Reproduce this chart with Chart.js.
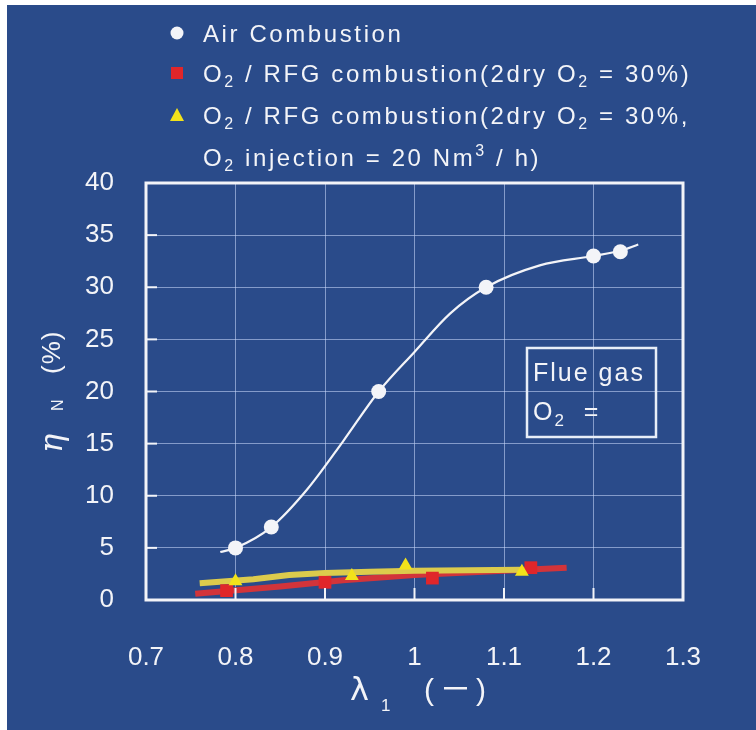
<!DOCTYPE html>
<html>
<head>
<meta charset="utf-8">
<script src="https://cdn.jsdelivr.net/npm/chart.js@4.4.1/dist/chart.umd.min.js"></script>
<style>
html,body{margin:0;padding:0;background:#ffffff;}
canvas{display:block;}
</style>
</head>
<body>
<canvas id="c" width="756" height="730" style="width:756px;height:730px"></canvas>
<script>
// ---- data ----
const xTickLabels = ['0.7','0.8','0.9','1','1.1','1.2','1.3'];
const yTickLabels = ['0','5','10','15','20','25','30','35','40'];

// Air combustion: measured points and hand-drawn fitted curve
const airX = [0.80, 0.84, 0.96, 1.08, 1.20, 1.23];
const airY = [5.0, 7.0, 20.0, 30.0, 33.0, 33.4];
const airCurveX = [0.783, 0.80, 0.84, 0.88, 0.92, 0.96, 1.00, 1.04, 1.08, 1.14, 1.20, 1.23, 1.25];
const airCurveY = [4.6, 5.0, 7.0, 10.6, 15.2, 20.0, 23.8, 27.5, 30.0, 32.1, 33.0, 33.5, 34.1];

// O2/RFG combustion (2dry O2 = 30%)
const rfgX = [0.79, 0.90, 1.02, 1.13];
const rfgY = [0.9, 1.7, 2.1, 3.1];
const rfgLineX = [0.755, 0.85, 0.92, 1.00, 1.10, 1.17];
const rfgLineY = [0.6, 1.3, 1.9, 2.4, 2.8, 3.1];

// O2/RFG combustion (2dry O2 = 30%, O2 injection = 20 Nm3/h)
const injX = [0.80, 0.93, 0.99, 1.12];
const injY = [1.8, 2.3, 3.3, 2.7];
const injLineX = [0.76, 0.82, 0.86, 0.90, 0.95, 1.00, 1.12];
const injLineY = [1.6, 2.0, 2.4, 2.6, 2.7, 2.8, 2.9];

const pts = (xs, ys) => xs.map((x, i) => ({x: x, y: ys[i]}));

const FONT = '"Liberation Sans", Arial, sans-serif';
const BG = '#2a4b8a';
const WHITE = '#f3f4f8';
const RED = '#e0262a';
const REDLINE = '#d2343a';
const YEL = '#f2e21a';
const YELLINE = '#dccb4c';

function rich(ctx, x, y, parts, base) {
  let cx = x;
  for (const p of parts) {
    const t = p[0], k = p[1] || 'n';
    const size = k === 'n' ? base : Math.round(base * 0.66);
    ctx.font = size + 'px ' + FONT;
    const dy = k === 'sub' ? base * 0.22 : (k === 'sup' ? -base * 0.42 : 0);
    ctx.fillText(t, cx, y + dy);
    cx += ctx.measureText(t).width;
  }
  return cx;
}

const decor = {
  id: 'decor',
  beforeDraw(chart) {
    const ctx = chart.ctx;
    ctx.save();
    ctx.fillStyle = '#ffffff';
    ctx.fillRect(0, 0, chart.width, chart.height);
    ctx.fillStyle = BG;
    ctx.fillRect(7, 5, chart.width - 7, chart.height - 5);
    ctx.restore();
  },
  afterDatasetsDraw(chart) {
    const ctx = chart.ctx;
    const a = chart.chartArea;
    const xs = chart.scales.x, ys = chart.scales.y;
    ctx.save();
    // inward tick marks
    ctx.strokeStyle = WHITE;
    ctx.lineWidth = 2;
    ys.ticks.forEach(t => {
      const py = ys.getPixelForValue(t.value);
      ctx.beginPath(); ctx.moveTo(a.left, py); ctx.lineTo(a.left + 11, py); ctx.stroke();
    });
    xs.ticks.forEach(t => {
      const px = xs.getPixelForValue(t.value);
      ctx.beginPath(); ctx.moveTo(px, a.bottom); ctx.lineTo(px, a.bottom - 12); ctx.stroke();
    });
    // frame
    ctx.lineWidth = 3;
    ctx.strokeRect(a.left, a.top, a.right - a.left, a.bottom - a.top);

    // Flue gas box
    ctx.lineWidth = 2.5;
    ctx.strokeStyle = '#e8eef8';
    ctx.strokeRect(527, 348, 129, 89);
    ctx.fillStyle = WHITE;
    ctx.textBaseline = 'alphabetic';
    ctx.textAlign = 'left';
    ctx.letterSpacing = '2px';
    rich(ctx, 533, 381, [['Flue gas']], 25);
    rich(ctx, 533, 420, [['O'], ['2', 'sub'], ['  =']], 25);

    // legend
    ctx.letterSpacing = '2.6px';
    const lx = 203;
    rich(ctx, lx, 42, [['Air Combustion']], 24);
    rich(ctx, lx, 82, [['O'], ['2', 'sub'], [' / RFG combustion(2dry O'], ['2', 'sub'], [' = 30%)']], 24);
    rich(ctx, lx, 124, [['O'], ['2', 'sub'], [' / RFG combustion(2dry O'], ['2', 'sub'], [' = 30%,']], 24);
    rich(ctx, lx, 166, [['O'], ['2', 'sub'], [' injection = 20 Nm'], ['3', 'sup'], [' / h)']], 24);
    ctx.letterSpacing = '0px';
    // legend markers
    ctx.fillStyle = WHITE;
    ctx.beginPath(); ctx.arc(177, 33, 6.5, 0, Math.PI * 2); ctx.fill();
    ctx.fillStyle = RED;
    ctx.fillRect(171, 67, 12, 12);
    ctx.fillStyle = YEL;
    ctx.beginPath(); ctx.moveTo(177, 108); ctx.lineTo(184, 121); ctx.lineTo(170, 121); ctx.closePath(); ctx.fill();

    // x axis title: lambda_1 (-)
    ctx.fillStyle = WHITE;
    ctx.font = '32px "DejaVu Sans", sans-serif';
    ctx.fillText('λ', 350, 700);
    ctx.font = '17px ' + FONT;
    ctx.fillText('1', 381, 711);
    ctx.font = '30px ' + FONT;
    ctx.fillText('(', 424, 700);
    ctx.fillText(')', 476, 700);
    ctx.fillRect(444, 687, 23, 2.5);

    // y axis title: eta_N (%)
    ctx.translate(62, 453);
    ctx.rotate(-Math.PI / 2);
    ctx.font = 'italic 32px "DejaVu Serif", serif';
    ctx.fillText('η', 0, 0);
    ctx.font = '16px ' + FONT;
    ctx.fillText('N', 42, 1);
    ctx.font = '26px ' + FONT;
    ctx.letterSpacing = '1px';
    ctx.fillText('(%)', 79, -2);
    ctx.restore();
  }
};

new Chart(document.getElementById('c'), {
  type: 'scatter',
  data: {
    datasets: [
      { label: 'Air Combustion', data: pts(airX, airY), showLine: false,
        pointStyle: 'circle', pointRadius: 7.5, backgroundColor: WHITE, borderWidth: 0, order: 1 },
      { label: 'O2/RFG combustion(2dry O2 = 30%)', data: pts(rfgX, rfgY), showLine: false,
        pointStyle: 'rect', pointRadius: 9, backgroundColor: RED, borderWidth: 0, order: 2 },
      { label: 'O2/RFG combustion(2dry O2 = 30%, O2 injection = 20 Nm3/h)', data: pts(injX, injY), showLine: false,
        pointStyle: 'triangle', pointRadius: 8, backgroundColor: YEL, borderWidth: 0, order: 0 },
      { label: 'air fit', data: pts(airCurveX, airCurveY), showLine: true, pointRadius: 0,
        borderColor: WHITE, borderWidth: 2.2, cubicInterpolationMode: 'monotone', order: 5 },
      { label: 'inj line', data: pts(injLineX, injLineY), showLine: true, pointRadius: 0,
        borderColor: YELLINE, borderWidth: 6, tension: 0, order: 6 },
      { label: 'rfg line', data: pts(rfgLineX, rfgLineY), showLine: true, pointRadius: 0,
        borderColor: REDLINE, borderWidth: 6, tension: 0, order: 7 }
    ]
  },
  options: {
    responsive: false,
    animation: false,
    events: [],
    layout: { padding: { top: 183, right: 73, bottom: 0, left: 0 } },
    plugins: { legend: { display: false }, tooltip: { enabled: false } },
    scales: {
      x: {
        type: 'linear', min: 0.7, max: 1.3,
        afterFit(s) { s.height = 130; },
        afterBuildTicks(s) { s.ticks = xTickLabels.map(v => ({ value: parseFloat(v) })); },
        ticks: {
          color: WHITE, padding: 42, font: { family: FONT, size: 26 },
          maxRotation: 0, autoSkip: false,
          callback: (v, i) => xTickLabels[i]
        },
        grid: { color: 'rgba(205,222,255,0.55)', lineWidth: 1, drawTicks: false },
        border: { display: false }
      },
      y: {
        type: 'linear', min: 0, max: 40,
        afterFit(s) { s.width = 146; },
        afterBuildTicks(s) { s.ticks = yTickLabels.map(v => ({ value: parseFloat(v) })); },
        ticks: {
          color: WHITE, padding: 32, font: { family: FONT, size: 26 },
          autoSkip: false,
          callback: (v, i) => yTickLabels[i]
        },
        grid: { color: 'rgba(205,222,255,0.55)', lineWidth: 1, drawTicks: false },
        border: { display: false }
      }
    }
  },
  plugins: [decor]
});
</script>
</body>
</html>
